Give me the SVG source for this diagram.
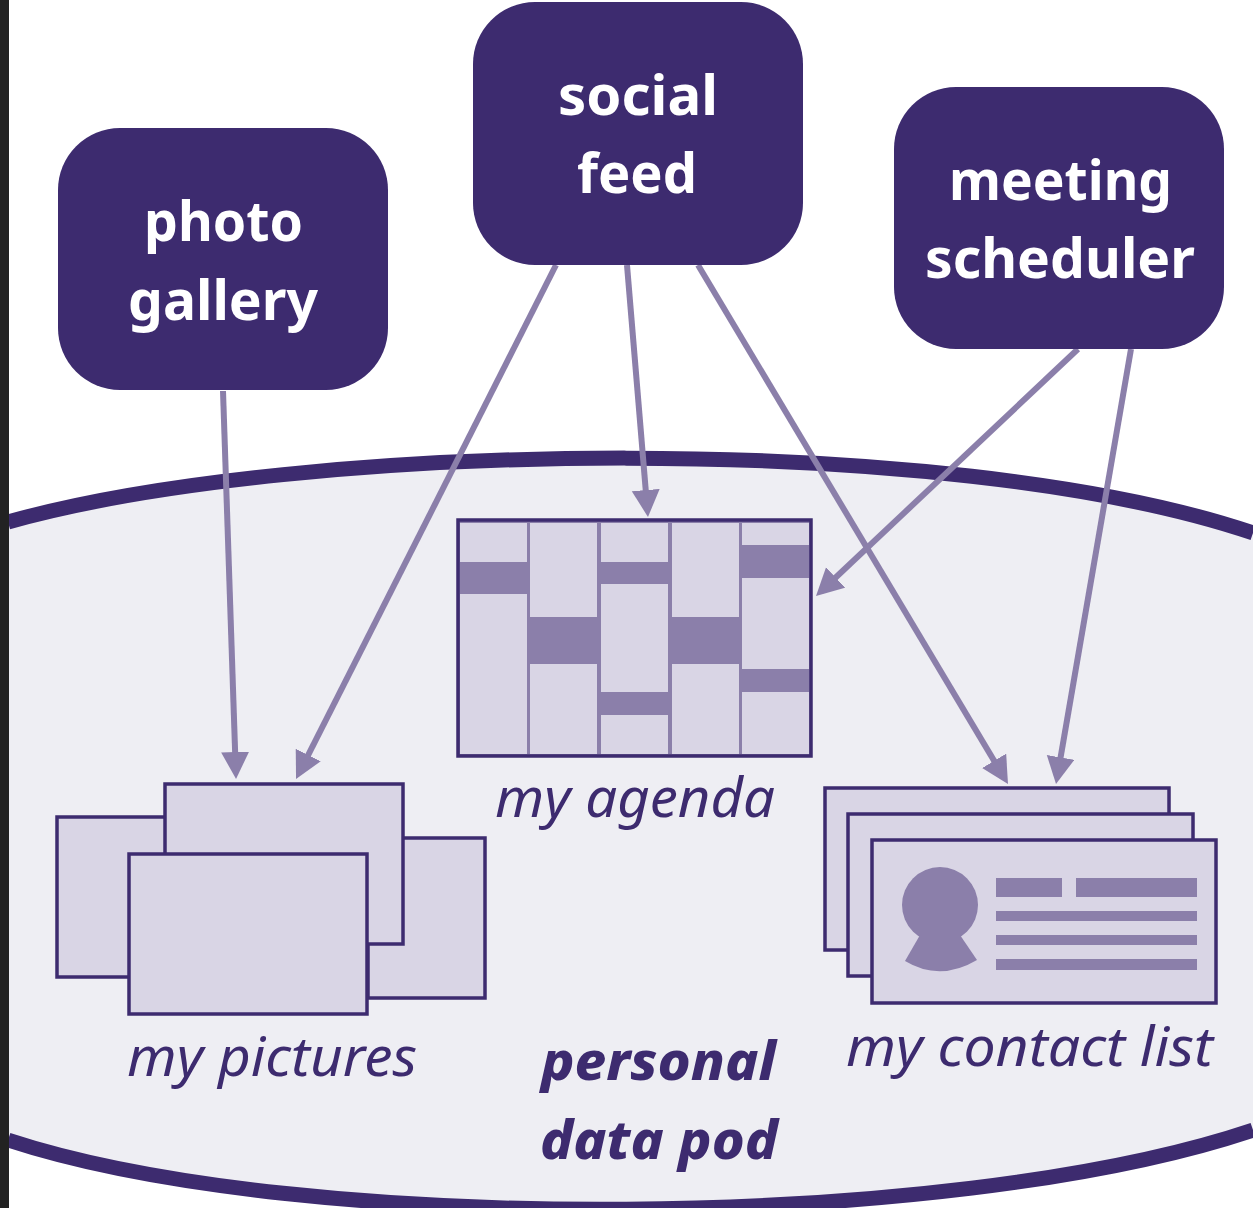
<svg xmlns="http://www.w3.org/2000/svg" width="1253" height="1208" viewBox="0 0 1253 1208">
<style>
.app{fill:#3d2b6f}
.appt{font-family:"Noto Sans","Open Sans",sans-serif;font-weight:700;font-size:55px;fill:#fff}
.it{font-family:"Noto Sans","Open Sans",sans-serif;font-style:italic;font-size:54px;fill:#3d2b6f}
.bi{font-family:"Noto Sans","Open Sans",sans-serif;font-style:italic;font-weight:800;font-size:53px;fill:#3d2b6f}
.sheet{fill:#d9d5e5;stroke:#3d2b6f;stroke-width:3.5}
.mid{fill:#8b7faa}
.light{fill:#d9d5e5}
.conn{fill:none;stroke:#8b7faa;stroke-width:6;marker-end:url(#arrow)}
</style>
<defs>
<marker id="arrow" markerUnits="userSpaceOnUse" markerWidth="30" markerHeight="30" refX="20" refY="14" orient="auto">
<path d="M0 0L27 14L0 28Z" fill="#8b7faa"/>
</marker>
</defs>
<rect width="1253" height="1208" fill="#fff"/>
<g id="pod">
<path d="M8 522C300 440 950 430 1253 533L1253 1130C950 1232 300 1236 8 1140Z" fill="#eeeef3"/>
<path d="M8 522C300 440 950 430 1253 533" fill="none" stroke="#3d2b6f" stroke-width="15"/>
<path d="M8 1140C300 1236 950 1232 1253 1130" fill="none" stroke="#3d2b6f" stroke-width="15"/>
<text class="bi" x="541" y="1080" textLength="235" lengthAdjust="spacingAndGlyphs">personal</text>
<text class="bi" x="540" y="1159" textLength="238" lengthAdjust="spacingAndGlyphs">data pod</text>
</g>
<rect id="frame" x="0" y="0" width="9" height="1208" fill="#222"/>
<g id="my-agenda">
<rect x="458" y="520" width="353" height="236" fill="#8b7faa" stroke="#3d2b6f" stroke-width="3.5"/>
<g class="light">
<rect x="460" y="523" width="67" height="39"/><rect x="460" y="594" width="67" height="160"/>
<rect x="530" y="523" width="67" height="94"/><rect x="530" y="664" width="67" height="90"/>
<rect x="601" y="523" width="67" height="39"/><rect x="601" y="584" width="67" height="108"/><rect x="601" y="715" width="67" height="39"/>
<rect x="672" y="523" width="67" height="94"/><rect x="672" y="664" width="67" height="90"/>
<rect x="742" y="523" width="67" height="22"/><rect x="742" y="578" width="67" height="91"/><rect x="742" y="692" width="67" height="62"/>
</g>
<text class="it" x="495" y="817" textLength="280" lengthAdjust="spacingAndGlyphs">my agenda</text>
</g>
<g id="my-pictures">
<rect class="sheet" x="57" y="817" width="110" height="160"/>
<rect class="sheet" x="368" y="838" width="117" height="160"/>
<rect class="sheet" x="165" y="784" width="238" height="160"/>
<rect class="sheet" x="129" y="854" width="238" height="160"/>
<text class="it" x="127" y="1076" textLength="290" lengthAdjust="spacingAndGlyphs">my pictures</text>
</g>
<g id="my-contact-list">
<rect class="sheet" x="825" y="788" width="344" height="162"/>
<rect class="sheet" x="848" y="814" width="345" height="162"/>
<rect class="sheet" x="872" y="840" width="344" height="163"/>
<g class="mid">
<circle cx="940" cy="905" r="38"/>
<path d="M920 935L905 961Q940 982 977 960L960 935Z"/>
<rect x="996" y="878" width="66" height="19"/><rect x="1076" y="878" width="121" height="19"/>
<rect x="996" y="911" width="201" height="10"/><rect x="996" y="935" width="201" height="10"/><rect x="996" y="959" width="201" height="11"/>
</g>
<text class="it" x="846" y="1066" textLength="367" lengthAdjust="spacingAndGlyphs">my contact list</text>
</g>
<g id="connectors">
<path class="conn" d="M223 391L235.8 772"/>
<path class="conn" d="M556 265L299.2 772.8"/>
<path class="conn" d="M627 265L647.4 510"/>
<path class="conn" d="M698 265L1004.4 778"/>
<path class="conn" d="M1078 349L821.1 591.2"/>
<path class="conn" d="M1131 349L1057.2 777.1"/>
</g>
<g id="photo-gallery">
<rect class="app" x="58" y="128" width="330" height="262" rx="62"/>
<text class="appt" x="144" y="241" textLength="159" lengthAdjust="spacingAndGlyphs">photo</text>
<text class="appt" x="128" y="320" textLength="190" lengthAdjust="spacingAndGlyphs">gallery</text>
</g>
<g id="social-feed">
<rect class="app" x="473" y="2" width="330" height="263" rx="62"/>
<text class="appt" x="558" y="115" textLength="160" lengthAdjust="spacingAndGlyphs">social</text>
<text class="appt" x="577" y="193" textLength="120" lengthAdjust="spacingAndGlyphs">feed</text>
</g>
<g id="meeting-scheduler">
<rect class="app" x="894" y="87" width="330" height="262" rx="62"/>
<text class="appt" x="949" y="200" textLength="223" lengthAdjust="spacingAndGlyphs">meeting</text>
<text class="appt" x="925" y="278" textLength="270" lengthAdjust="spacingAndGlyphs">scheduler</text>
</g>
</svg>
